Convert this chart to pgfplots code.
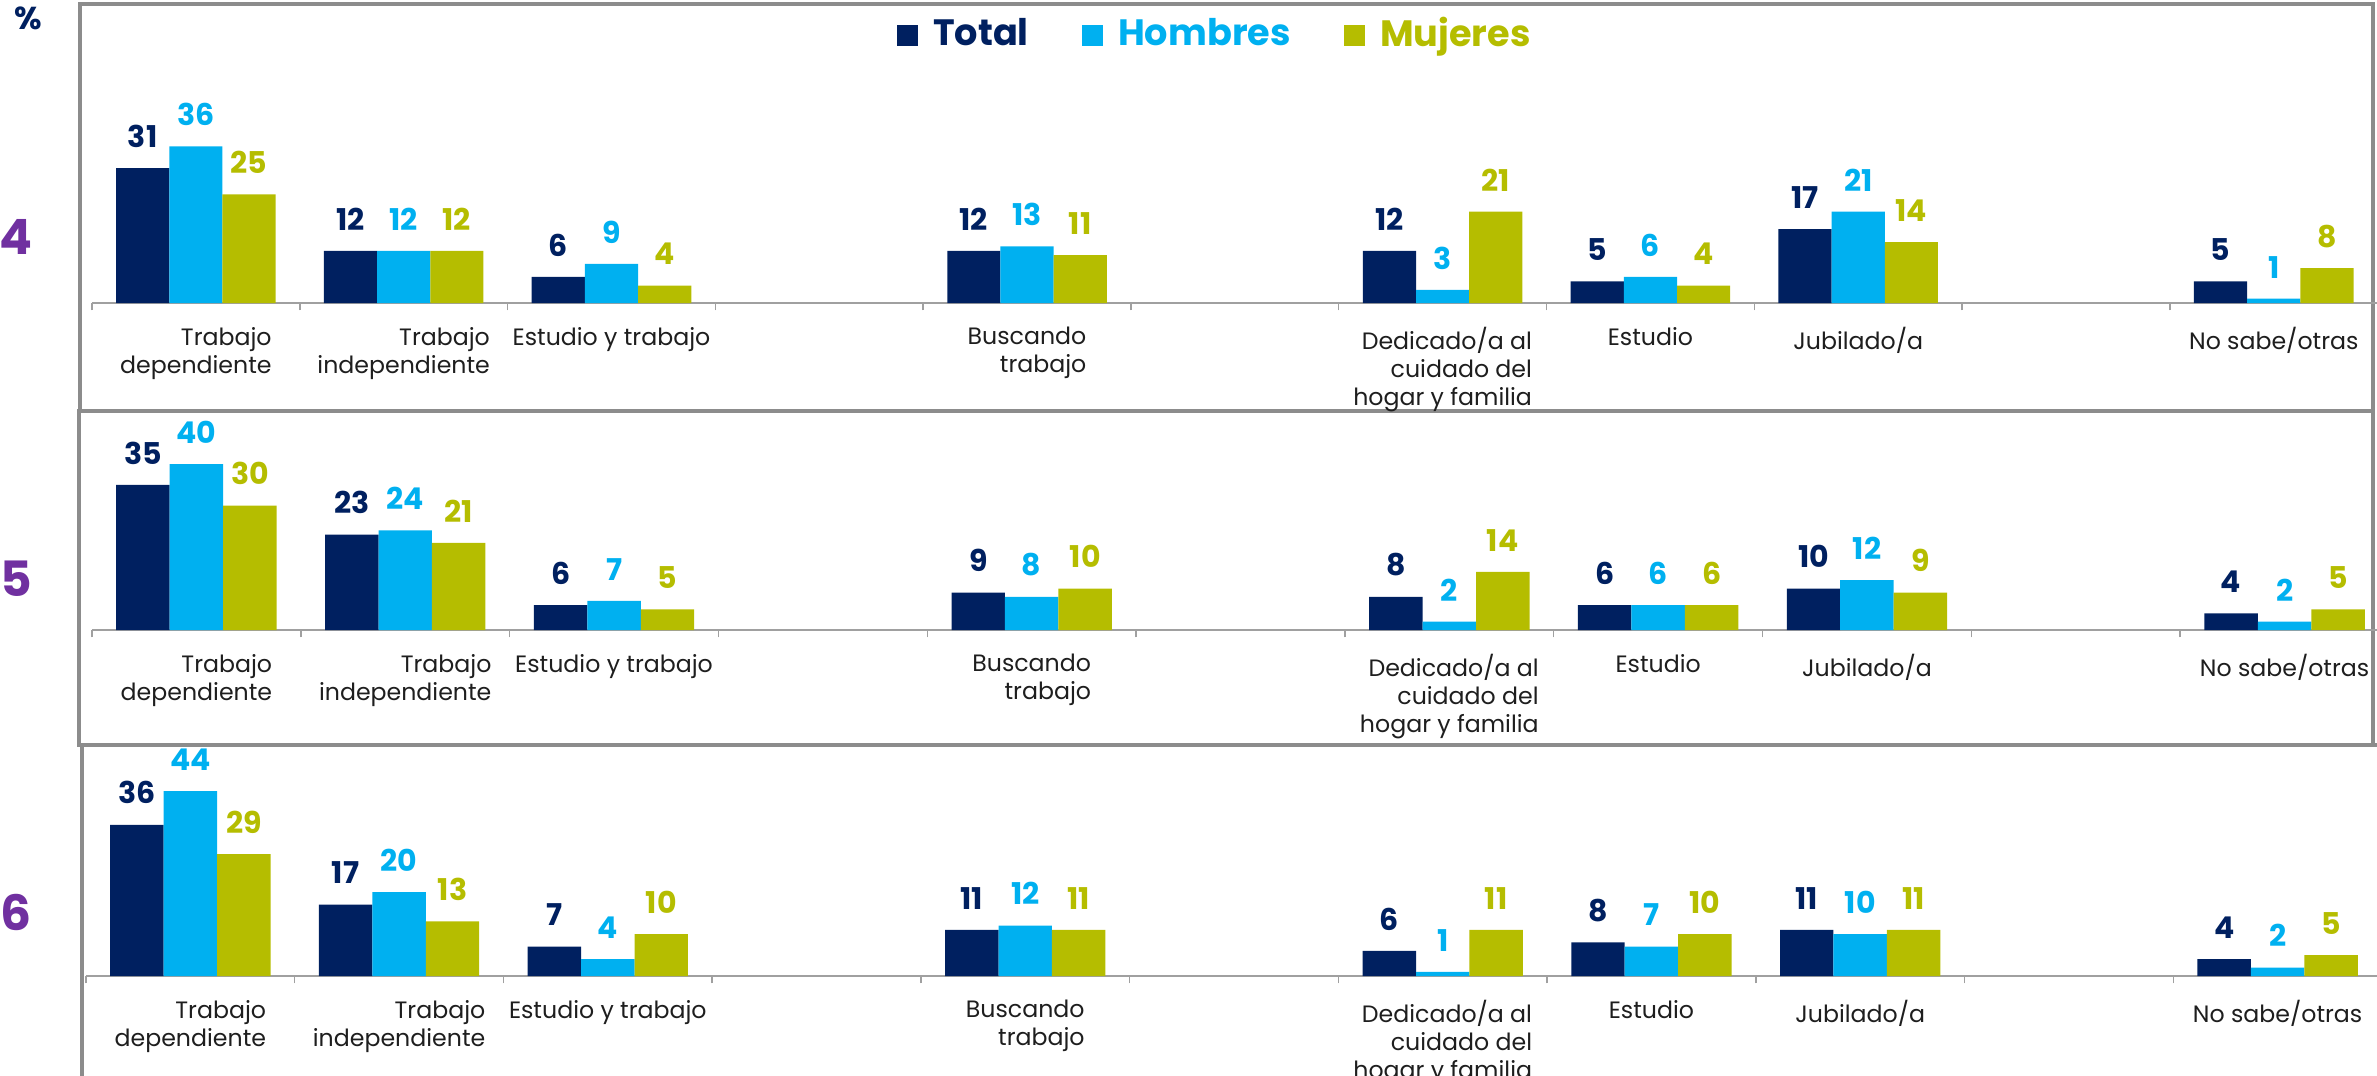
\documentclass[border=0pt]{standalone}
\usepackage{fontspec}
\setmainfont{Poppins}
\usepackage{pgfplots}
\usepackage{pgfplotstable}
\pgfplotsset{compat=1.18}

\definecolor{cTotal}{HTML}{002060}
\definecolor{cHom}{HTML}{00B0F0}
\definecolor{cMuj}{HTML}{B5BD00}
\definecolor{cRow}{HTML}{7030A0}
\definecolor{frameg}{HTML}{8C8C8C}
\definecolor{axisg}{HTML}{A0A0A0}
\definecolor{labc}{HTML}{1E1E1E}

% x = slot centre (empty slots 3, 5, 9 have no rows)
\pgfplotstableread{
x    t  h  m
0.5  31 36 25
1.5  12 12 12
2.5  6  9  4
4.5  12 13 11
6.5  12 3  21
7.5  5  6  4
8.5  17 21 14
10.5 5  1  8
}\dataA
\pgfplotstableread{
x    t  h  m
0.5  35 40 30
1.5  23 24 21
2.5  6  7  5
4.5  9  8  10
6.5  8  2  14
7.5  6  6  6
8.5  10 12 9
10.5 4  2  5
}\dataB
\pgfplotstableread{
x    t  h  m
0.5  36 44 29
1.5  17 20 13
2.5  7  4  10
4.5  11 12 11
6.5  6  1  11
7.5  8  7  10
8.5  11 10 11
10.5 4  2  5
}\dataC

\pgfplotsset{
  panel/.style={
    scale only axis, clip=false,
    xmin=0, xmax=11, ymin=0,
    axis y line=none, axis x line*=bottom,
    axis line style={draw=axisg, line width=0.45pt},
    xtick={0.5,1.5,2.5,4.5,6.5,7.5,8.5,10.5},
    xticklabels={{Trabajo\\dependiente},{Trabajo\\independiente},{Estudio y trabajo},
      {Buscando\\trabajo},{Dedicado/a al\\cuidado del\\hogar y familia},{Estudio},
      {Jubilado/a},{No sabe/otras}},
    major tick length=0pt,
    minor xtick={0,1,...,11},
    minor tick length=2.2pt,
    tick align=outside,
    minor tick style={draw=axisg, line width=0.45pt},
    xticklabel style={font=\fontsize{7.1}{8.4}\selectfont, text=labc, align=right,
      inner sep=0pt, anchor=north, yshift=-7pt},
    ybar=0pt, bar width=0.256,
    /pgf/number format/assume math mode=true,
    nodes near coords,
    every node near coord/.append style={font=\fontsize{9}{10}\selectfont\bfseries,
      inner sep=0pt, yshift=6pt, anchor=south},
  },
  tot/.style={fill=cTotal, draw=none, bar shift=-0.256,
    every node near coord/.append style={text=cTotal}},
  hom/.style={fill=cHom, draw=none, bar shift=0,
    every node near coord/.append style={text=cHom}},
  muj/.style={fill=cMuj, draw=none, bar shift=0.256,
    every node near coord/.append style={text=cMuj}},
}

\begin{document}
\begin{tikzpicture}
\useasboundingbox (0pt,0pt) rectangle (713.1pt,-322.5pt);

% panel frames
\draw[frameg, line width=1.1pt] (24pt,-1.2pt) rectangle (711.9pt,-123.3pt);
\draw[frameg, line width=1.1pt] (23.7pt,-123.3pt) rectangle (711.9pt,-223.5pt);
\draw[frameg, line width=1.1pt] (24.6pt,-340pt) -- (24.6pt,-223.5pt) -- (720pt,-223.5pt);

\node[font=\fontsize{9.5}{10}\selectfont\bfseries, text=cTotal] at (8.4pt,-5.6pt) {\%};
\node[font=\fontsize{14.6}{16}\selectfont\bfseries, text=cRow] at (4.8pt,-71.1pt) {4};
\node[font=\fontsize{14.6}{16}\selectfont\bfseries, text=cRow] at (4.8pt,-173.7pt) {5};
\node[font=\fontsize{14.6}{16}\selectfont\bfseries, text=cRow] at (4.8pt,-273.6pt) {6};

\begin{axis}[panel, at={(27.6pt,-90.9pt)}, anchor=south west,
  width=685.7pt, ymax=40, height=52.2pt,
  legend columns=3,
  legend image code/.code={\fill[#1] (0pt,-3.4pt) rectangle (6.3pt,2.9pt);},
  legend style={at={(0.4923,1.543)}, anchor=center, draw=none, fill=none,
    font=\fontsize{11}{13}\selectfont\bfseries,
    /tikz/every odd column/.append style={column sep=2.5pt},
    /tikz/every even column/.append style={column sep=14pt}}]
\addplot[tot] table[x=x, y=t] {\dataA};
\addlegendentry{\textcolor{cTotal}{Total}}
\addplot[hom] table[x=x, y=h] {\dataA};
\addlegendentry{\textcolor{cHom}{Hombres}}
\addplot[muj] table[x=x, y=m] {\dataA};
\addlegendentry{\textcolor{cMuj}{Mujeres}}
\end{axis}

\begin{axis}[panel, at={(27.6pt,-189pt)}, anchor=south west,
  width=689.1pt, ymax=45, height=56pt]
\addplot[tot] table[x=x, y=t] {\dataB};
\addplot[hom] table[x=x, y=h] {\dataB};
\addplot[muj] table[x=x, y=m] {\dataB};
\end{axis}

\begin{axis}[panel, at={(25.8pt,-292.8pt)}, anchor=south west,
  width=688.8pt, ymax=50, height=63pt]
\addplot[tot] table[x=x, y=t] {\dataC};
\addplot[hom] table[x=x, y=h] {\dataC};
\addplot[muj] table[x=x, y=m] {\dataC};
\end{axis}
\end{tikzpicture}
\end{document}
